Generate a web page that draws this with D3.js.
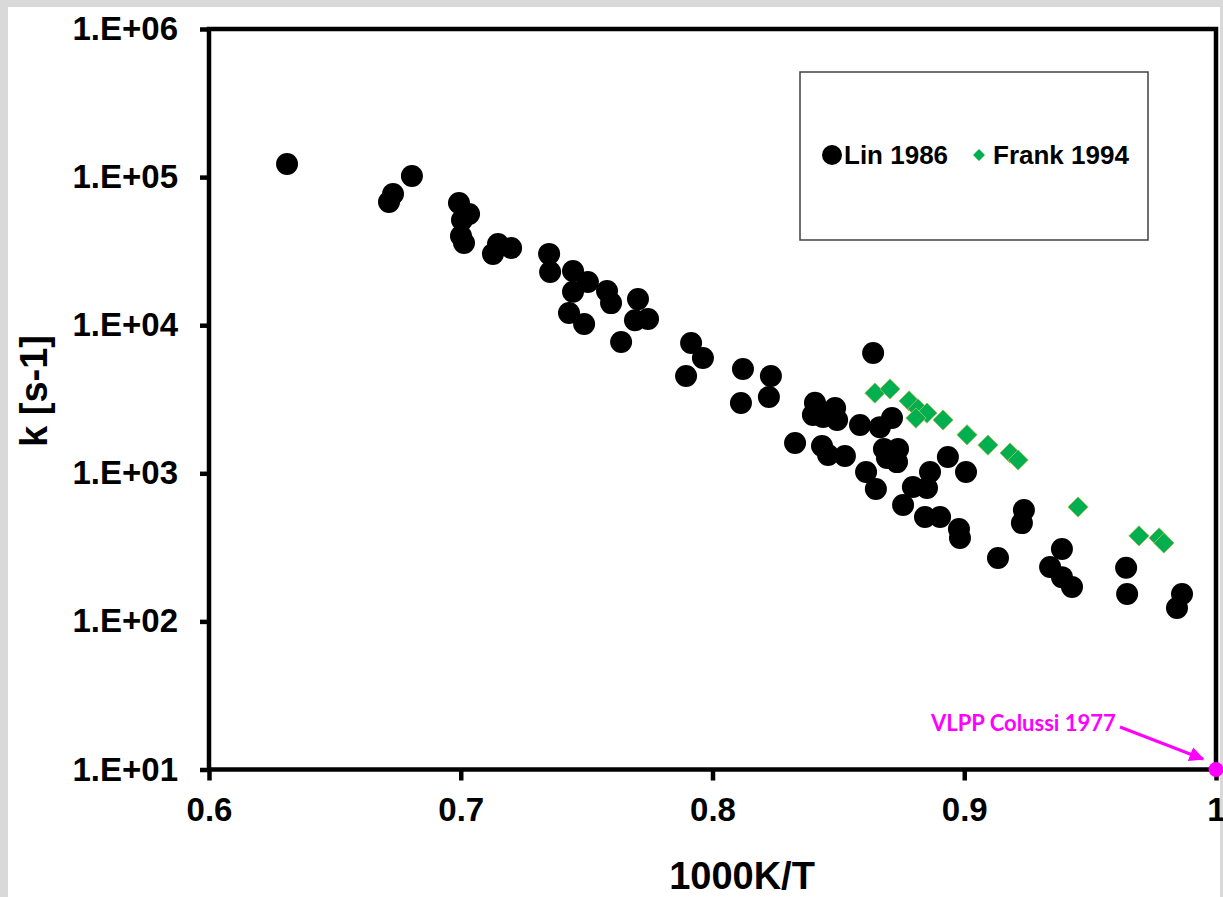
<!DOCTYPE html>
<html><head><meta charset="utf-8">
<script src="https://cdn.jsdelivr.net/npm/d3@7"></script>
<style>
html,body{margin:0;padding:0;background:#d9d9d9;}
svg{display:block;}
</style></head>
<body>
<svg id="chart" width="1223" height="897"></svg>
<script>
// Lin 1986 : [1000K/T, k]
const linX = [0.631,0.6715,0.6731,0.6806,0.6993,0.7033,0.7005,0.7001,0.7013,0.7148,0.7200,0.7128,
  0.7351,0.7355,0.7446,0.7505,0.7446,0.7581,0.7597,0.7430,0.7490,0.7637,0.7704,0.7692,0.7744,
  0.7915,0.7962,0.7895,0.8121,0.8232,0.8113,0.8224,0.8328,0.8407,0.8399,0.8439,0.8487,0.8495,
  0.8586,0.8665,0.8713,0.8638,0.8435,0.8459,0.8526,0.8681,0.8737,0.8693,0.8733,0.8610,0.8935,
  0.9007,0.8864,0.8796,0.8852,0.8649,0.8757,0.8844,0.8904,0.8979,0.8983,0.9237,0.9229,0.9134,
  0.9388,0.9341,0.9388,0.9428,0.9643,0.9647,0.9865,0.9845];
const linK = [122600,67900,76900,101700,66800,56400,51300,40000,35900,35300,33200,30300,
  30300,22900,23200,19600,16800,17000,14100,12100,10200,7700,15000,10800,11000,
  7580,6010,4540,5060,4540,2980,3270,1600,2990,2480,2400,2760,2290,
  2120,2050,2360,6490,1530,1330,1310,1460,1460,1270,1190,1020,1290,
  1020,1020,808,796,784,611,507,507,421,366,565,461,268,
  308,233,199,171,230,153,153,123];
// Frank 1994
const frankX = [0.8645,0.8705,0.8781,0.8816,0.8852,0.8808,0.8916,0.9011,0.9094,0.9182,0.9214,0.9452,0.9694,0.9774,0.9793];
const frankK = [3480,3710,3080,2720,2550,2360,2290,1820,1550,1370,1230,592,378,366,338];
// VLPP Colussi 1977
const colussiX = [1.0];
const colussiK = [10];

const xTicks = [0.6,0.7,0.8,0.9,1.0];
const xTickLabels = ["0.6","0.7","0.8","0.9","1"];
const yTicks = [1e1,1e2,1e3,1e4,1e5,1e6];
const yTickLabels = ["1.E+01","1.E+02","1.E+03","1.E+04","1.E+05","1.E+06"];

const svg = d3.select("#chart");
const FONT = "'Liberation Sans', Arial, sans-serif";

// white page area inside gray frame
svg.append("rect").attr("x",8).attr("y",7).attr("width",1212).attr("height",890).attr("fill","#fff");

const x = d3.scaleLinear().domain([0.6,1.0]).range([209,1216]);
const y = d3.scaleLog().domain([10,1e6]).range([769.5,29]);

// axes
const yAxis = d3.axisLeft(y).tickValues(yTicks).tickFormat((d,i)=>yTickLabels[i]).tickSize(9).tickSizeOuter(0).tickPadding(22);
const gy = svg.append("g").attr("transform","translate(209,0)").call(yAxis);
gy.select(".domain").remove();
gy.selectAll("line").attr("stroke","#000").attr("stroke-width",4.5);
gy.selectAll("text").attr("font-family",FONT).attr("font-weight","bold").attr("font-size",33).attr("fill","#000");

const xAxis = d3.axisBottom(x).tickValues(xTicks).tickFormat((d,i)=>xTickLabels[i]).tickSize(11).tickSizeOuter(0).tickPadding(17);
const gx = svg.append("g").attr("transform","translate(0,769.5)").call(xAxis);
gx.select(".domain").remove();
gx.selectAll("line").attr("stroke","#000").attr("stroke-width",4.5);
gx.selectAll("text").attr("font-family",FONT).attr("font-weight","bold").attr("font-size",33).attr("fill","#000");

// plot frame
svg.append("rect").attr("x",x(0.6)).attr("y",y(1e6)).attr("width",x(1.0)-x(0.6)).attr("height",y(10)-y(1e6))
  .attr("fill","none").attr("stroke","#000").attr("stroke-width",4.5);

// axis titles
svg.append("text").attr("x",742).attr("y",889).attr("text-anchor","middle")
  .attr("font-family",FONT).attr("font-weight","bold").attr("font-size",38).text("1000K/T");
svg.append("text").attr("transform","translate(47,391) rotate(-90)").attr("text-anchor","middle")
  .attr("font-family",FONT).attr("font-weight","bold").attr("font-size",38).text("k [s-1]");

// legend
svg.append("rect").attr("x",800).attr("y",72).attr("width",348).attr("height",168)
  .attr("fill","#fff").attr("stroke","#404040").attr("stroke-width",1.5);
svg.append("circle").attr("cx",832).attr("cy",155).attr("r",10).attr("fill","#000");
svg.append("text").attr("x",844).attr("y",164).attr("font-family",FONT).attr("font-weight","bold")
  .attr("font-size",26).text("Lin 1986");
svg.append("path").attr("d",d3.symbol(d3.symbolDiamond2,90)()).attr("transform","translate(979,155)")
  .attr("fill","#00b050");
svg.append("text").attr("x",993).attr("y",164).attr("font-family",FONT).attr("font-weight","bold")
  .attr("font-size",26).text("Frank 1994");

// Lin data
svg.append("g").selectAll("circle").data(linX).join("circle")
  .attr("cx",(d)=>x(d)).attr("cy",(d,i)=>y(linK[i])).attr("r",11).attr("fill","#000");

// Frank data
const diamond = d3.symbol(d3.symbolDiamond2, 260)();
svg.append("g").selectAll("path").data(frankX).join("path")
  .attr("d",diamond)
  .attr("transform",(d,i)=>`translate(${x(d)},${y(frankK[i])})`)
  .attr("fill","#00b050").attr("stroke","#9bbb59").attr("stroke-width",1);

// Colussi point + annotation
svg.append("defs").append("marker").attr("id","arr").attr("viewBox","0 0 10 10")
  .attr("refX",9).attr("refY",5).attr("markerWidth",5).attr("markerHeight",5).attr("orient","auto")
  .append("path").attr("d","M0,0 L10,5 L0,10 z").attr("fill","#ff00ff");
svg.append("line").attr("x1",1120).attr("y1",727).attr("x2",1203).attr("y2",759)
  .attr("stroke","#ff00ff").attr("stroke-width",3).attr("marker-end","url(#arr)");
svg.append("g").selectAll("circle").data(colussiX).join("circle")
  .attr("cx",(d)=>x(d)).attr("cy",(d,i)=>y(colussiK[i])).attr("r",7.5).attr("fill","#ff00ff");
svg.append("text").attr("x",931).attr("y",731).attr("font-family","Lato, 'Open Sans', sans-serif")
  .attr("font-weight","bold").attr("font-size",22).attr("fill","#ff00ff").text("VLPP Colussi 1977");
</script>
</body></html>
